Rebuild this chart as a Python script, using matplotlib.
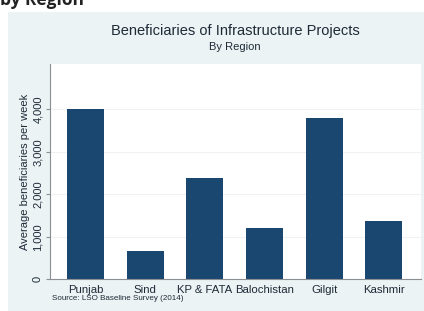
import matplotlib

matplotlib.use("Agg")

import matplotlib.pyplot as plt
from matplotlib.patches import Rectangle

# --- Dados ----------------------------------------------------------------
regioes = ["Punjab", "Sind", "KP & FATA", "Balochistan", "Gilgit", "Kashmir"]
beneficiarios = [4000, 670, 2380, 1200, 3790, 1380]
ticks_y = [0, 1000, 2000, 3000, 4000]
rotulos_y = ["0", "1,000", "2,000", "3,000", "4,000"]

# --- Paleta ---------------------------------------------------------------
COR_FUNDO = "#ebf3f5"
COR_BARRA = "#1a476f"
COR_TEXTO = "#1e2a36"
COR_EIXO = "#8a8f94"

W, H = 424, 311
fig = plt.figure(figsize=(W / 100, H / 100), dpi=100)
fig.patch.set_facecolor("white")

# fundo azulado estilo Stata
fig.add_artist(Rectangle((8 / W, 0.0), 1 - 8 / W, 1 - 12 / H,
                         transform=fig.transFigure, facecolor=COR_FUNDO,
                         edgecolor="none", zorder=0))

# área do gráfico: x 50..421, y 64..279 (px)
ax = fig.add_axes([50 / W, 1 - 279.3 / H, (421 - 50) / W, (279.3 - 64) / H])
ax.set_facecolor("white")
ax.set_zorder(1)

xs = list(range(len(regioes)))
ax.bar(xs, beneficiarios, width=0.62, color=COR_BARRA, zorder=2)

ax.set_xlim(-0.595, 5.62)
ax.set_ylim(0, 5066)
ax.set_yticks(ticks_y)
ax.set_yticklabels(rotulos_y, rotation=90, va="center", fontsize=8, color=COR_TEXTO)
ax.set_xticks(xs)
ax.set_xticklabels(regioes, fontsize=8.2, color=COR_TEXTO)
ax.tick_params(axis="x", length=0, pad=4)
ax.tick_params(axis="y", length=3, color=COR_EIXO, pad=2)
ax.grid(axis="y", color="#eef2f4", linewidth=0.8, zorder=1)

for lado in ("top", "right"):
    ax.spines[lado].set_visible(False)
for lado in ("left", "bottom"):
    ax.spines[lado].set_color(COR_EIXO)
    ax.spines[lado].set_linewidth(0.8)

ax.set_ylabel("Average beneficiaries per week", fontsize=8, color=COR_TEXTO, labelpad=2)

# títulos
fig.text(235 / W, 1 - 31 / H, "Beneficiaries of Infrastructure Projects",
         ha="center", va="center", fontsize=10.5, color=COR_TEXTO,
         family="Liberation Sans")
fig.text(235 / W, 1 - 47 / H, "By Region", ha="center", va="center",
         fontsize=8, color=COR_TEXTO, family="Liberation Sans")
fig.text(52 / W, 1 - 298 / H, "Source: LSO Baseline Survey (2014)",
         ha="left", va="center", fontsize=5.8, color=COR_TEXTO,
         family="Liberation Sans")

# resto do título da página, cortado no topo
fig.text(0 / W, 1 - 5 / H, "by Region", ha="left", va="baseline",
         fontsize=12.5, fontweight="bold", color="#222222", family="Open Sans")

for t in ax.get_xticklabels() + ax.get_yticklabels():
    t.set_family("Liberation Sans")
ax.yaxis.label.set_family("Liberation Sans")

fig.savefig("out.png", dpi=100, facecolor="white")
